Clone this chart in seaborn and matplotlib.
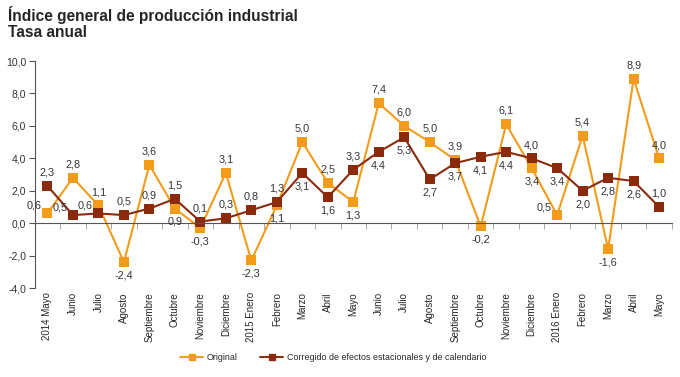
import numpy as np
import pandas as pd
import matplotlib
matplotlib.use('Agg')
import matplotlib.pyplot as plt
from matplotlib import font_manager
import seaborn as sns

months = ['2014 Mayo', 'Junio', 'Julio', 'Agosto', 'Septiembre', 'Octubre', 'Noviembre',
          'Diciembre', '2015 Enero', 'Febrero', 'Marzo', 'Abril', 'Mayo', 'Junio', 'Julio',
          'Agosto', 'Septiembre', 'Octubre', 'Noviembre', 'Diciembre', '2016 Enero',
          'Febrero', 'Marzo', 'Abril', 'Mayo']
original = [0.6, 2.8, 1.1, -2.4, 3.6, 0.9, -0.3, 3.1, -2.3, 1.1, 5.0, 2.5, 1.3,
            7.4, 6.0, 5.0, 3.9, -0.2, 6.1, 3.4, 0.5, 5.4, -1.6, 8.9, 4.0]
corregido = [2.3, 0.5, 0.6, 0.5, 0.9, 1.5, 0.1, 0.3, 0.8, 1.3, 3.1, 1.6, 3.3,
             4.4, 5.3, 2.7, 3.7, 4.1, 4.4, 4.0, 3.4, 2.0, 2.8, 2.6, 1.0]
names = ['Original', 'Corregido de efectos estacionales y de calendario']

# label placement: a = above, b = below, l = left
pos_orig = ['l', 'a', 'a', 'b', 'a', 'b', 'b', 'a', 'b', 'b', 'a', 'a', 'b',
            'a', 'a', 'a', 'a', 'b', 'a', 'b', 'l', 'a', 'b', 'a', 'a']
pos_corr = ['a', 'l', 'l', 'a', 'a', 'a', 'a', 'a', 'a', 'a', 'b', 'b', 'a',
            'b', 'b', 'b', 'b', 'b', 'b', 'a', 'b', 'b', 'b', 'b', 'a']

colors = {names[0]: '#F39C1B', names[1]: '#8B2A0C'}

df = pd.DataFrame({
    'x': list(range(len(months))) * 2,
    'valor': original + corregido,
    'serie': [names[0]] * len(months) + [names[1]] * len(months),
})

sns.set_style('white')
plt.rcParams['font.family'] = ['Liberation Sans', 'DejaVu Sans']

installed = {f.name for f in font_manager.fontManager.ttflist}
if 'Liberation Sans Narrow' in installed:
    narrow, leg_size, xt_size = 'Liberation Sans Narrow', 7.5, 7.5
else:
    narrow, leg_size, xt_size = 'Liberation Sans', 6.4, 7.0

fig = plt.figure(figsize=(6.8, 3.77), dpi=100)
ax = fig.add_axes([0.051, 0.236, 0.937, 0.602])

sns.lineplot(data=df, x='x', y='valor', hue='serie', style='serie', palette=colors,
             markers=['s', 's'], dashes=False, markersize=6.5, markeredgewidth=0,
             linewidth=1.5, ax=ax, legend=False)

def lab(v):
    return f'{v:.1f}'.replace('.', ',')

for vals, pos in [(original, pos_orig), (corregido, pos_corr)]:
    for i, (v, p) in enumerate(zip(vals, pos)):
        if p == 'a':
            ax.annotate(lab(v), (i, v), xytext=(0, 6), textcoords='offset points',
                        ha='center', va='bottom', fontsize=7.8, color='#333333')
        elif p == 'b':
            ax.annotate(lab(v), (i, v), xytext=(0, -6), textcoords='offset points',
                        ha='center', va='top', fontsize=7.8, color='#333333')
        else:
            ax.annotate(lab(v), (i, v), xytext=(-4, 2), textcoords='offset points',
                        ha='right', va='bottom', fontsize=7.8, color='#333333')

ax.set_xlim(-0.5, len(months) - 0.5)
ax.set_ylim(-4, 10)
yt = np.arange(-4, 10.1, 2)
ax.set_yticks(yt)
ax.set_yticklabels([lab(t) for t in yt], fontsize=7.5, color='#333333')
ax.tick_params(axis='y', length=4, width=0.8, color='#555555', pad=2, left=True)
ax.set_xlabel('')
ax.set_ylabel('')

# axis line at zero with boundary ticks
for s in ['top', 'right']:
    ax.spines[s].set_visible(False)
ax.spines['left'].set_color('#555555')
ax.spines['bottom'].set_position(('data', 0))
ax.spines['bottom'].set_color('#555555')
ax.set_xticks([])
ax.set_xticks(np.arange(-0.5, len(months), 1), minor=True)
ax.tick_params(axis='x', which='minor', length=4, width=0.6, color='#999999', bottom=True)

sec = ax.secondary_xaxis(0)
sec.set_xticks(range(len(months)))
sec.set_xticklabels(months, rotation=90, fontsize=xt_size, family=narrow)
sec.tick_params(length=0, pad=3)
sec.spines['bottom'].set_visible(False)

fig.text(0.012, 0.985, 'Índice general de producción industrial', fontsize=11.2,
         fontweight='bold', va='top', ha='left')
fig.text(0.012, 0.935, 'Tasa anual', fontsize=11.2, fontweight='bold', va='top', ha='left')

handles = [plt.Line2D([], [], color=colors[n], marker='s', markersize=4.5, lw=1.4)
           for n in names]
fig.legend(handles, names, loc='center', bbox_to_anchor=(0.49, 0.052), ncol=2,
           frameon=False, handlelength=2.6, columnspacing=2.5, handletextpad=0.4,
           prop={'family': narrow, 'size': leg_size})

fig.savefig('out.png', dpi=100)
